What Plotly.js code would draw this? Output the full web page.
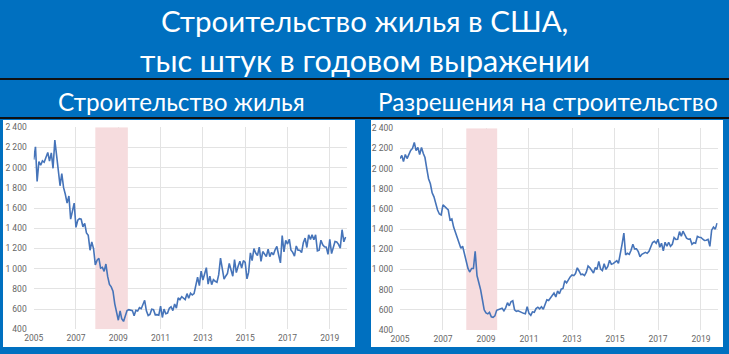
<!DOCTYPE html>
<html><head><meta charset="utf-8">
<script src="https://cdn.plot.ly/plotly-3.0.1.min.js"></script>
<style>html,body{margin:0;padding:0;background:#0070C0;overflow:hidden}</style>
</head><body><div id="chart" style="width:729px;height:354px"></div>
<script>
// ---- data ----
const startYear = 2005;
const startMonth = 1;
// Housing starts, thousand units, SAAR, monthly 2005-01 .. 2019-10
const startsValues = [
  2080,2207,1864,2061,2025,2068,2054,2095,2151,2065,2147,1994,
  2273,2119,1969,1821,1942,1802,1737,1650,1720,1491,1570,1649,
  1409,1480,1495,1490,1415,1448,1354,1330,1183,1264,1197,1037,
  1084,1103,1005,1013,973,1046,923,844,820,777,652,560,
  490,582,505,478,540,585,594,586,585,534,588,581,
  614,604,636,687,583,536,546,599,594,543,545,539,
  630,517,600,554,561,608,623,585,650,610,711,694,
  723,704,695,753,708,757,740,754,847,915,833,976,
  888,962,1010,847,925,842,891,876,866,941,1105,1003,
  897,928,954,1052,999,925,1090,962,1025,1074,1007,1080,
  1063,900,963,1157,1080,1200,1155,1130,1214,1072,1170,1144,
  1120,1193,1120,1162,1137,1187,1220,1136,1058,1327,1167,1281,
  1244,1292,1186,1162,1125,1225,1184,1183,1159,1257,1303,1210,
  1336,1290,1335,1286,1335,1177,1184,1282,1237,1217,1214,1142,
  1291,1149,1199,1270,1265,1241,1203,1386,1266,1314
];
// Building permits, thousand units, SAAR, monthly 2005-01 .. 2019-10
const permitsValues = [
  2100,2130,2070,2140,2100,2150,2180,2200,2260,2180,2210,2140,
  2210,2150,2110,2000,1900,1850,1760,1720,1650,1590,1550,1540,
  1640,1620,1600,1590,1490,1500,1420,1370,1320,1270,1210,1230,
  1150,1060,1010,975,1010,1010,1180,940,880,800,700,600,
  570,560,575,530,525,540,595,600,610,615,590,620,
  670,640,680,690,600,585,590,580,575,565,560,630,
  565,545,580,575,612,626,610,630,605,653,700,693,
  717,737,766,728,786,760,805,812,889,868,904,926,
  946,939,960,1017,985,950,954,940,974,1034,1017,991,
  965,1020,1001,1080,1005,990,1057,1001,1031,1092,1052,1058,
  1074,1087,1060,1143,1250,1360,1144,1161,1150,1190,1251,1204,
  1204,1177,1127,1150,1158,1170,1160,1180,1225,1267,1280,1260,
  1300,1220,1260,1185,1270,1230,1270,1230,1250,1316,1298,1300,
  1376,1330,1380,1350,1310,1300,1303,1250,1265,1260,1328,1320,
  1317,1300,1288,1290,1299,1230,1390,1420,1400,1460
];
const recessionStarts = ['2007-12-01', '2009-06-15'];
const recessionPermits = ['2008-02-01', '2009-07-10'];
const xTickYears = [2005, 2007, 2009, 2011, 2013, 2015, 2017, 2019];
const yTicks = [400, 600, 800, 1000, 1200, 1400, 1600, 1800, 2000, 2200, 2400];
const titleLines = ['Строительство жилья в США,', 'тыс штук в годовом выражении'];
const subtitles = ['Строительство жилья', 'Разрешения на строительство'];

// ---- helpers ----
function monthDates(n) {
  const out = [];
  for (let i = 0; i < n; i++) {
    const m = startMonth - 1 + i;
    const y = startYear + Math.floor(m / 12);
    const mm = (m % 12) + 1;
    out.push(y + '-' + String(mm).padStart(2, '0') + '-01');
  }
  return out;
}
const W = 729, H = 354;
const px = x => x / W;
const py = y => 1 - y / H;
const fmt = v => { const s = String(v); return s.length > 3 ? s.slice(0, s.length - 3) + ' ' + s.slice(-3) : s; };

const lineColor = '#4674B9';
const tickFont = { family: 'Roboto, Arial, sans-serif', size: 8.5, color: '#666666' };
const gridColor = '#E3E3E3';

const traces = [
  { x: monthDates(startsValues.length), y: startsValues, type: 'scatter', mode: 'lines',
    line: { color: lineColor, width: 1.6 }, xaxis: 'x', yaxis: 'y', hoverinfo: 'skip' },
  { x: monthDates(permitsValues.length), y: permitsValues, type: 'scatter', mode: 'lines',
    line: { color: lineColor, width: 1.6 }, xaxis: 'x2', yaxis: 'y2', hoverinfo: 'skip' }
];

function xAxis(domain, endDate, anchor) {
  return {
    domain: domain, type: 'date', range: ['2005-01-01', endDate], anchor: anchor,
    tickvals: xTickYears.map(y => y + '-01-01'), ticktext: xTickYears.map(String),
    showgrid: true, gridcolor: gridColor, gridwidth: 1, zeroline: false, showline: false,
    ticks: '', tickfont: tickFont, ticklabelstandoff: 2, fixedrange: true
  };
}
function yAxis(domain, anchor) {
  return {
    domain: domain, range: [400, 2400], anchor: anchor,
    tickvals: yTicks, ticktext: yTicks.map(fmt),
    showgrid: true, gridcolor: gridColor, gridwidth: 1, zeroline: false, showline: false,
    ticks: '', tickfont: tickFont, ticklabelstandoff: 6, fixedrange: true
  };
}

const titleFont = { family: 'Lato, "Open Sans", sans-serif', color: '#FFFFFF' };
const annotations = [
  { text: titleLines[0], x: 0.5, y: py(20), font: Object.assign({ size: 29.5 }, titleFont) },
  { text: titleLines[1], x: 0.5, y: py(60), font: Object.assign({ size: 30.5 }, titleFont) },
  { text: subtitles[0], x: px(181), y: py(101), font: Object.assign({ size: 24.3 }, titleFont) },
  { text: subtitles[1], x: px(548), y: py(101), font: Object.assign({ size: 24.3 }, titleFont) }
].map(a => Object.assign({ xref: 'paper', yref: 'paper', xanchor: 'center', yanchor: 'middle', showarrow: false }, a));

const shapes = [
  { type: 'line', xref: 'paper', yref: 'paper', x0: 0, x1: 1, y0: py(79), y1: py(79), line: { color: '#111111', width: 2 } },
  { type: 'line', xref: 'paper', yref: 'paper', x0: 0, x1: 1, y0: py(118), y1: py(118), line: { color: '#111111', width: 2 } },
  { type: 'rect', xref: 'paper', yref: 'paper', x0: px(3), x1: px(355), y0: py(347), y1: py(120), fillcolor: '#FFFFFF', line: { width: 0 }, layer: 'below' },
  { type: 'rect', xref: 'paper', yref: 'paper', x0: px(371), x1: px(723), y0: py(347), y1: py(120), fillcolor: '#FFFFFF', line: { width: 0 }, layer: 'below' },
  { type: 'rect', xref: 'x', yref: 'y', x0: recessionStarts[0], x1: recessionStarts[1], y0: 400, y1: 2400, fillcolor: '#F6DCDE', line: { width: 0 }, layer: 'between' },
  { type: 'rect', xref: 'x2', yref: 'y2', x0: recessionPermits[0], x1: recessionPermits[1], y0: 400, y1: 2400, fillcolor: '#F6DCDE', line: { width: 0 }, layer: 'between' }
];

const layout = {
  width: W, height: H, margin: { l: 0, r: 0, t: 0, b: 0 },
  paper_bgcolor: '#0070C0', plot_bgcolor: 'rgba(0,0,0,0)',
  showlegend: false,
  xaxis: xAxis([px(33.7), px(346.7)], '2019-10-20', 'y'),
  yaxis: yAxis([py(329.3), py(127.3)], 'x'),
  xaxis2: xAxis([px(400), px(717.7)], '2019-10-12', 'y2'),
  yaxis2: yAxis([py(330), py(128.3)], 'x2'),
  annotations: annotations, shapes: shapes
};

Plotly.newPlot('chart', traces, layout, { staticPlot: true, displayModeBar: false });
</script>
</body></html>
